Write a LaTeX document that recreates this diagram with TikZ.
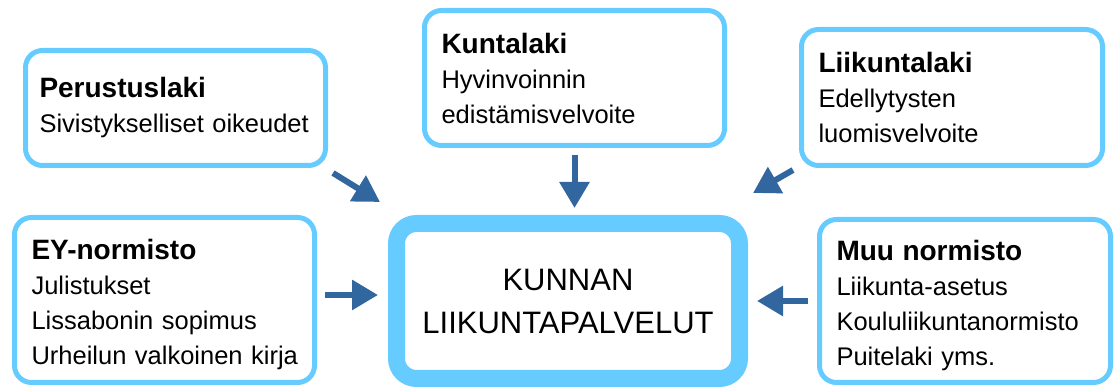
\documentclass[tikz,border=0pt]{standalone}
\usepackage{fontspec}
\setmainfont{Liberation Sans}
\usepackage{tikz}
\usetikzlibrary{arrows.meta}
\definecolor{boxblue}{RGB}{102,204,255}
\definecolor{arrowblue}{RGB}{50,102,158}
\tikzset{
lawbox/.style={draw=boxblue, line width=5pt, rounded corners=17pt, fill=white, inner xsep=17pt, inner ysep=0pt, align=left, font=\fontsize{25.5}{35}\selectfont},
mainbox/.style={draw=boxblue, line width=17pt, rounded corners=20pt, fill=white, align=center, font=\fontsize{31}{43}\selectfont},
flow/.style={draw=arrowblue, line width=6pt, -{Triangle[length=26pt,width=29pt]}}
}
\newcommand{\otsikko}[1]{{\fontsize{28}{35}\bfseries\selectfont #1}}

\begin{document}
\begin{tikzpicture}[x=1pt,y=1pt]
\useasboundingbox (0,0) rectangle (1114,387);
\node[mainbox, minimum width=343pt, minimum height=155pt] (palv) at (568,86) {KUNNAN\\LIIKUNTAPALVELUT};
\node[lawbox, inner xsep=14pt, text width=272pt, minimum height=115pt] (perus) at (175.5,279) {\otsikko{Perustuslaki}\\Sivistykselliset~oikeudet};
\node[lawbox, text width=266pt, minimum height=135pt] (kunta) at (574.5,309) {\otsikko{Kuntalaki}\\Hyvinvoinnin\\edistämisvelvoite};
\node[lawbox, text width=267pt, minimum height=136pt] (liik) at (952,289.5) {\otsikko{Liikuntalaki}\\Edellytysten\\luomisvelvoite};
\node[lawbox, text width=266pt, minimum height=165pt] (ey) at (164.5,87) {\otsikko{\rule{0pt}{30pt}EY-normisto}\\Julistukset\\Lissabonin~sopimus\\Urheilun~valkoinen~kirja};
\node[lawbox, text width=257pt, minimum height=163pt] (muu) at (965,86) {\otsikko{\rule{0pt}{30pt}Muu normisto}\\Liikunta-asetus\\Koululiikuntanormisto\\Puitelaki~yms.};

\draw[flow] ([xshift=5pt,yshift=-5pt]perus.south east) -- ([xshift=-8pt,yshift=13pt]palv.north west);
\draw[flow, shorten <=7pt, shorten >=7pt] (kunta.south) -- (kunta.south |- palv.north);
\draw[flow] ([xshift=-6pt,yshift=-2pt]liik.south west) -- ([xshift=5pt,yshift=22pt]palv.north east);
\draw[flow, shorten <=8pt, shorten >=10pt] ([yshift=5pt]ey.east) -- ([yshift=5pt]ey.east -| palv.west);
\draw[flow, shorten <=9pt, shorten >=9pt] (muu.west) -- (muu.west -| palv.east);
\end{tikzpicture}
\end{document}
